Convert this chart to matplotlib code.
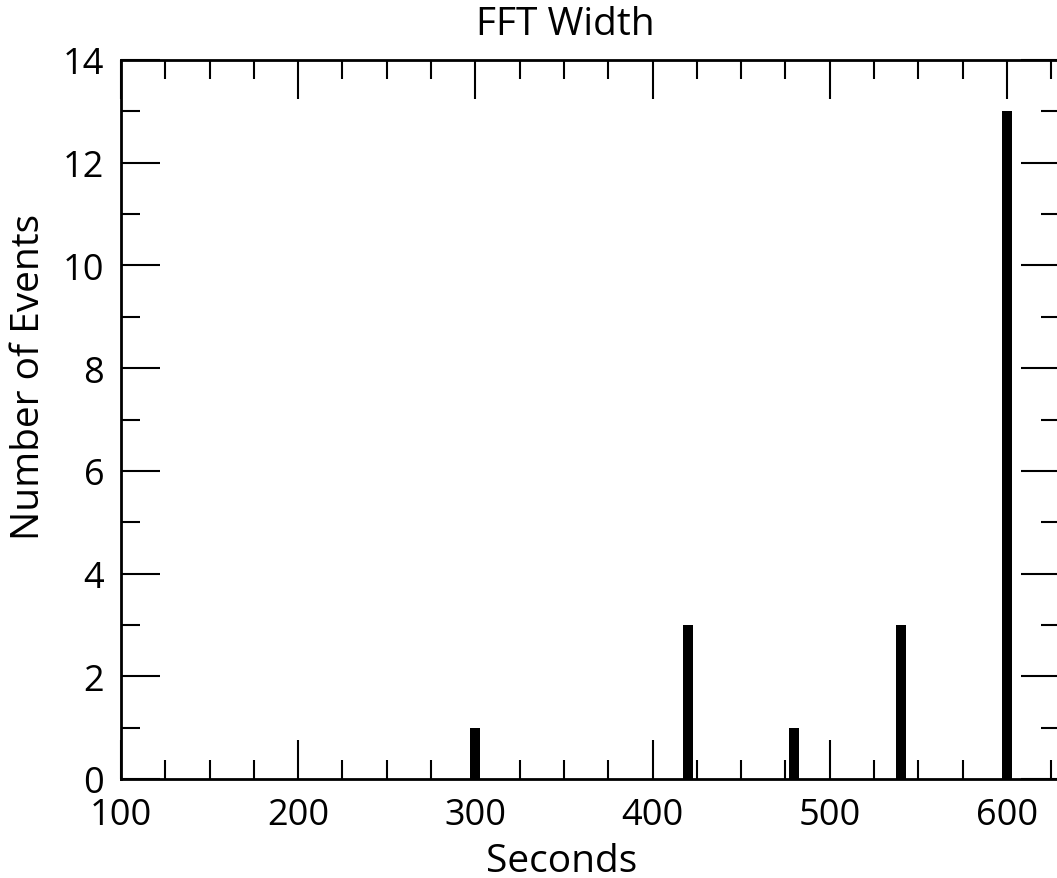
import matplotlib
matplotlib.use("Agg")
import matplotlib.pyplot as plt
from matplotlib.ticker import MultipleLocator

# FFT width histogram
seconds = [300, 420, 480, 540, 600]
events = [1, 3, 1, 3, 13]

plt.rcParams['font.family'] = ['Open Sans', 'DejaVu Sans']

fig = plt.figure(figsize=(10.57, 8.79), dpi=100)
ax = fig.add_axes([121/1057, 1 - 780/879, (1060 - 121)/1057, 719/879])

ax.bar(seconds, events, width=5.6, color='black', align='center')

ax.set_xlim(100, 630)
ax.set_ylim(0, 14)
ax.xaxis.set_major_locator(MultipleLocator(100))
ax.xaxis.set_minor_locator(MultipleLocator(25))
ax.yaxis.set_major_locator(MultipleLocator(2))
ax.yaxis.set_minor_locator(MultipleLocator(1))

for s in ax.spines.values():
    s.set_linewidth(2.0)
ax.tick_params(which='both', direction='in', top=True, right=True, width=1.5, labelsize=26)
ax.tick_params(which='major', length=28)
ax.tick_params(which='minor', length=14)
ax.tick_params(axis='x', pad=13)
ax.tick_params(axis='y', pad=12)

fig.text(565/1057, 1 - 35/879, 'FFT Width', ha='center', va='baseline', fontsize=28)
fig.text(562/1057, 1 - 872/879, 'Seconds', ha='center', va='baseline', fontsize=28)
fig.text(29/1057, 1 - 377/879, 'Number of Events', ha='center', va='center',
         rotation=90, fontsize=28)

fig.savefig('out.png', dpi=100)
